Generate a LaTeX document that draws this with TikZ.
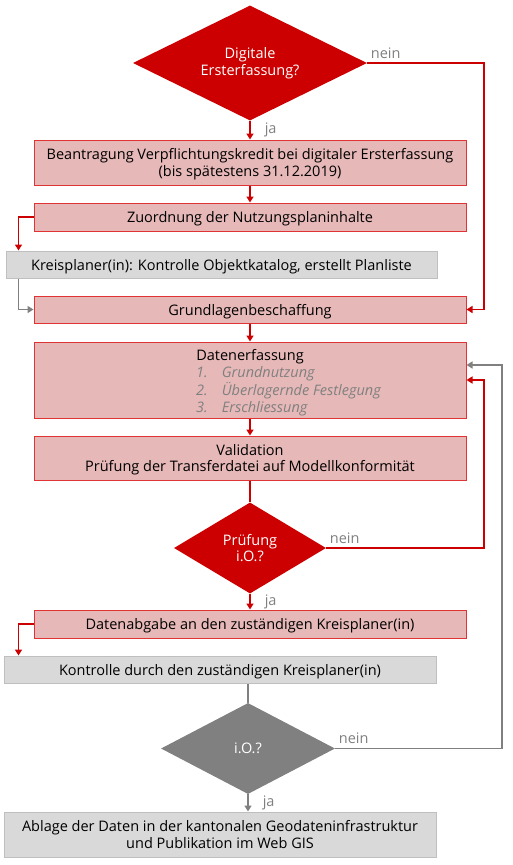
\documentclass[tikz,border=0pt]{standalone}
\usepackage{fontspec}
\setmainfont{Open Sans}
\usetikzlibrary{shapes.geometric,arrows.meta}

\definecolor{kred}{HTML}{CC0000}
\definecolor{kpink}{HTML}{E6B8B8}
\definecolor{kborder}{HTML}{E03434}
\definecolor{kgrayfill}{HTML}{D9D9D9}
\definecolor{kgrayline}{HTML}{BFBFBF}
\definecolor{kgray}{HTML}{808080}

\begin{document}
\begin{tikzpicture}[x=1pt,y=-1pt]
        \tikzstyle{every node}=[font=\fontsize{14.5}{16.5}\selectfont, inner sep=0pt]
        \tikzstyle{redbox}=[draw=kborder, fill=kpink, line width=1pt, minimum width=432pt, align=center, text depth=0pt]
        \tikzstyle{graybox}=[draw=kgrayline, fill=kgrayfill, line width=1pt, minimum width=432pt, align=center, text depth=0pt]
        \tikzstyle{entscheid}=[diamond, aspect=2, text=white, align=center]
        \tikzstyle{redline}=[draw=kred, line width=1.5pt]
        \tikzstyle{grayline}=[draw=kgray, line width=1.5pt]
        \tikzstyle{tip}=[-{Triangle[length=6pt,width=7pt]}]
        \tikzstyle{lbl}=[text=kgray]

        \useasboundingbox (0,0) rectangle (512,865);

        \node   (frage1)     [entscheid, fill=kred, minimum width=234pt, minimum height=115pt] at (250,63) {Digitale\\Ersterfassung?};
        \node   (antrag)     [redbox, minimum height=45pt] at (250,162.5) {Beantragung Verpflichtungskredit bei digitaler Ersterfassung\\(bis spätestens 31.12.2019)};
        \node   (zuordnung)  [redbox, minimum height=28pt] at (250,217) {Zuordnung der Nutzungsplaninhalte};
        \node   (kreisplan)  [graybox, minimum width=431pt, minimum height=27pt] at (221.5,264.5) {Kreisplaner(in): Kontrolle Objektkatalog, erstellt Planliste};
        \node   (grundlagen) [redbox, minimum height=27pt] at (250,309.5) {Grundlagenbeschaffung};
        \node   (erfassung)  [redbox, minimum height=76pt] at (250,380) {};
        \node   (titel)      at (250,357) {Datenerfassung};
        \node   (liste)      [anchor=north west, text=kgray, font=\fontsize{14.5}{16.5}\selectfont\itshape] at (196,366)
                {\begin{tabular}{@{}l@{\hspace{14pt}}l@{}}1. & Grundnutzung\\2. & Überlagernde Festlegung\\3. & Erschliessung\end{tabular}};
        \node   (validation) [redbox, minimum height=44pt] at (250,458) {Validation\\Prüfung der Transferdatei auf Modellkonformität};
        \node   (frage2)     [entscheid, fill=kred, minimum width=152pt, minimum height=91pt] at (250,548) {Prüfung\\i.O.?};
        \node   (abgabe)     [redbox, minimum height=28pt] at (250,624) {Datenabgabe an den zuständigen Kreisplaner(in)};
        \node   (kontrolle)  [graybox, minimum height=27pt] at (220,669.5) {Kontrolle durch den zuständigen Kreisplaner(in)};
        \node   (frage3)     [entscheid, fill=kgray, minimum width=174pt, minimum height=91pt] at (248,748.5) {i.O.?};
        \node   (ablage)     [graybox, minimum height=45pt] at (220,834.5) {Ablage der Daten in der kantonalen Geodateninfrastruktur\\und Publikation im Web GIS};

        % rote Verbindungen
        \draw[redline, tip] (frage1.south) -- node[lbl, anchor=west, xshift=14pt] {ja} (antrag.north);
        \draw[redline, tip] (frage1.east) -- node[lbl, anchor=south west, pos=0, xshift=3pt, yshift=4pt] {nein} ++(117,0) |- (grundlagen.east);
        \draw[redline, tip] (antrag.south) -- (zuordnung.north);
        \draw[redline, tip] (zuordnung.west) -| ([xshift=13pt]kreisplan.north west);
        \draw[redline, tip] (grundlagen.south) -- (erfassung.north);
        \draw[redline, tip] (erfassung.south) -- (validation.north);
        \draw[redline] (validation.south) -- (frage2.north);
        \draw[redline, tip] (frage2.east) -- node[lbl, anchor=south west, pos=0, xshift=3pt, yshift=4pt] {nein} ++(158,0) |- (erfassung.east);
        \draw[redline, tip] (frage2.south) -- node[lbl, anchor=west, xshift=14pt] {ja} (abgabe.north);
        \draw[redline, tip] (abgabe.west) -| ([xshift=15pt]kontrolle.north west);

        % graue Verbindungen
        \draw[grayline, tip] ([xshift=13pt]kreisplan.south west) |- (grundlagen.west);
        \draw[grayline] (frage3.north |- kontrolle.south) -- (frage3.north);
        \draw[grayline, tip] (frage3.east) -- node[lbl, anchor=south west, pos=0, xshift=3pt, yshift=4pt] {nein} ++(167,0) |- ([yshift=15pt]erfassung.east);
        \draw[grayline, tip] (frage3.south) -- node[lbl, anchor=west, xshift=14pt] {ja} (frage3.south |- ablage.north);

    \end{tikzpicture}
\end{document}
